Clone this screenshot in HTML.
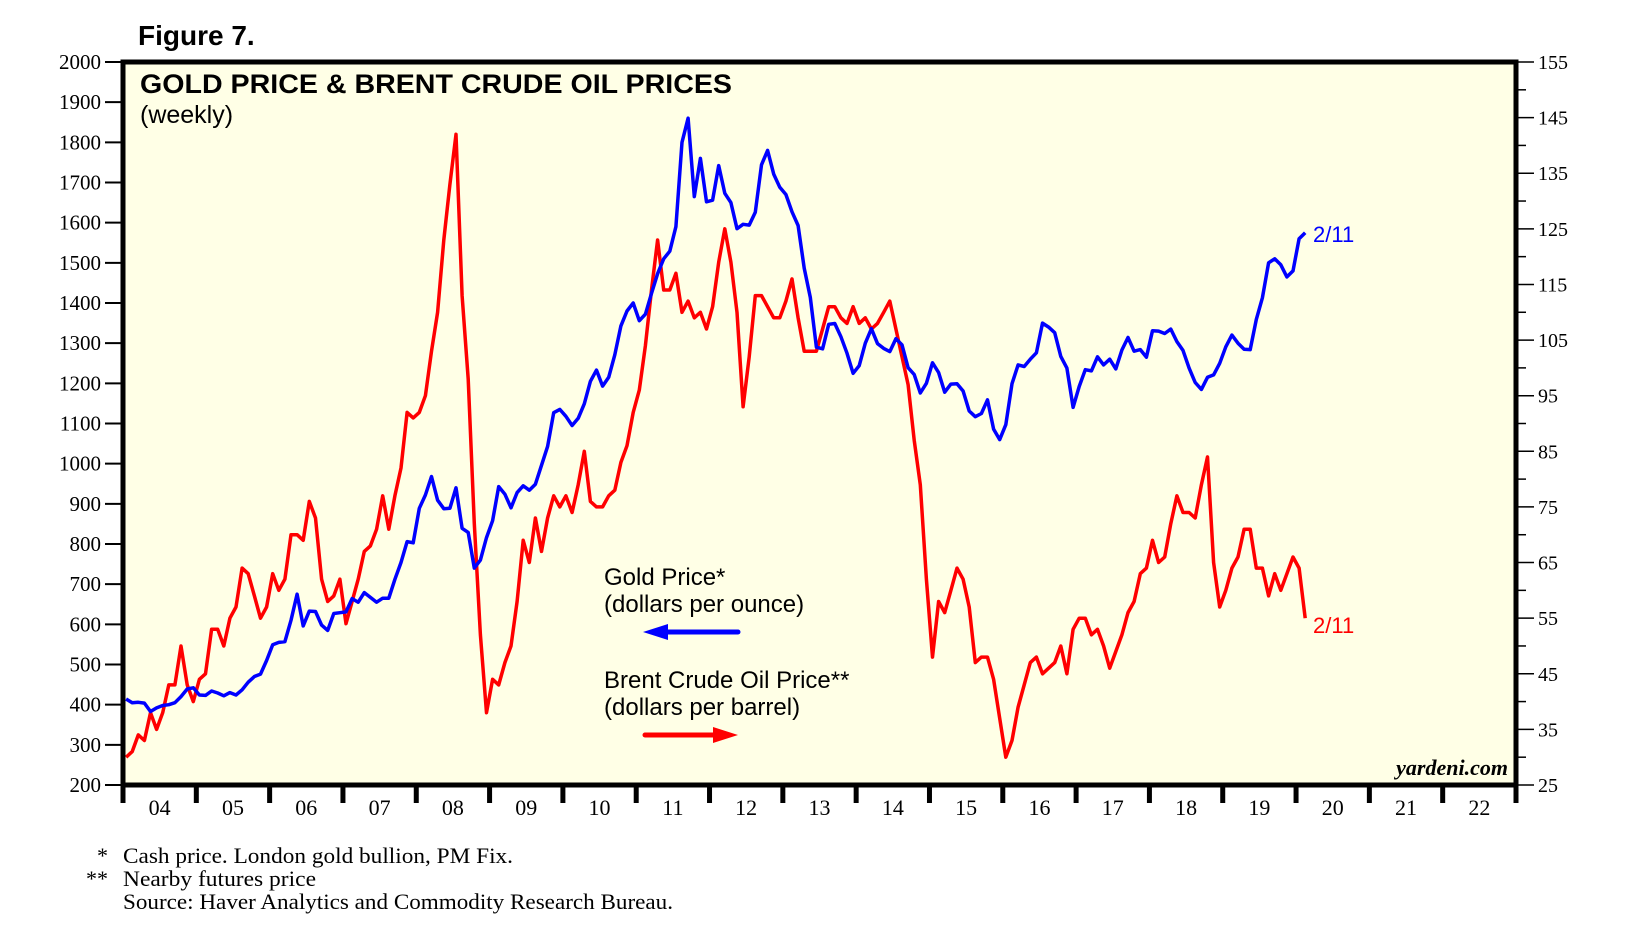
<!DOCTYPE html>
<html><head><meta charset="utf-8"><style>
html,body{margin:0;padding:0;background:#fff;}
svg{display:block;}
</style></head><body>
<svg id="chart" width="1650" height="943" viewBox="0 0 1650 943" xmlns="http://www.w3.org/2000/svg">
<text x="138" y="45" font-family="Liberation Sans, sans-serif" font-weight="bold" font-size="28">Figure 7.</text>
<rect x="123" y="62" width="1393" height="723" fill="#ffffe6"/>
<g id="grid"></g>
<g id="series"></g>
<rect x="123" y="62" width="1393" height="723" fill="none" stroke="#000" stroke-width="5"/>
<text x="140" y="93" font-family="Liberation Sans, sans-serif" font-weight="bold" font-size="27" textLength="592" lengthAdjust="spacingAndGlyphs">GOLD PRICE &amp; BRENT CRUDE OIL PRICES</text>
<text x="140" y="123" font-family="Liberation Sans, sans-serif" font-size="25">(weekly)</text>
<text x="604" y="585" font-family="Liberation Sans, sans-serif" font-size="24">Gold Price*</text>
<text x="604" y="612" font-family="Liberation Sans, sans-serif" font-size="24">(dollars per ounce)</text>
<line x1="660" y1="632" x2="738" y2="632" stroke="#0000ff" stroke-width="5" stroke-linecap="round"/>
<polygon points="643,632 668,624 668,640" fill="#0000ff"/>
<text x="604" y="688" font-family="Liberation Sans, sans-serif" font-size="24">Brent Crude Oil Price**</text>
<text x="604" y="715" font-family="Liberation Sans, sans-serif" font-size="24">(dollars per barrel)</text>
<line x1="645" y1="735" x2="720" y2="735" stroke="#ff0000" stroke-width="5" stroke-linecap="round"/>
<polygon points="738,735 713,727 713,743" fill="#ff0000"/>
<text x="1313" y="242" font-family="Liberation Sans, sans-serif" font-size="22" fill="#0000ff">2/11</text>
<text x="1313" y="633" font-family="Liberation Sans, sans-serif" font-size="22" fill="#ff0000">2/11</text>
<text x="1508" y="775" text-anchor="end" font-family="Liberation Serif, serif" font-style="italic" font-weight="bold" font-size="22">yardeni.com</text>
<text font-family="Liberation Serif, serif" font-size="22"><tspan x="97" y="863">*</tspan><tspan x="123" y="863" textLength="390" lengthAdjust="spacingAndGlyphs">Cash price. London gold bullion, PM Fix.</tspan></text>
<text font-family="Liberation Serif, serif" font-size="22"><tspan x="86" y="886">**</tspan><tspan x="123" y="886" textLength="193" lengthAdjust="spacingAndGlyphs">Nearby futures price</tspan></text>
<text x="123" y="909" font-family="Liberation Serif, serif" font-size="22" textLength="550" lengthAdjust="spacingAndGlyphs">Source: Haver Analytics and Commodity Research Bureau.</text>
</svg>
<script>
const years = [2004,2005,2006,2007,2008,2009,2010,2011,2012,2013,2014,2015,2016,2017,2018,2019,2020];
const yearLabels = ["04","05","06","07","08","09","10","11","12","13","14","15","16","17","18","19","20","21","22"];
const goldTicks = [200,300,400,500,600,700,800,900,1000,1100,1200,1300,1400,1500,1600,1700,1800,1900,2000];
const oilTicks = [25,35,45,55,65,75,85,95,105,115,125,135,145,155];
const gold = [
414,405,406,404,383,392,398,400,405,420,439,442,
424,423,434,429,422,430,424,437,456,470,476,510,
549,555,557,610,675,596,633,632,598,585,627,629,
631,664,655,679,667,655,665,665,712,754,806,803,
889,922,968,909,888,889,940,839,829,740,760,816,
858,943,924,890,928,945,934,949,996,1043,1127,1135,
1118,1095,1113,1149,1205,1233,1193,1215,1271,1343,1380,1400,
1356,1372,1424,1473,1510,1529,1590,1800,1860,1665,1760,1652,
1656,1742,1673,1650,1585,1596,1594,1626,1744,1780,1721,1688,
1670,1627,1593,1487,1414,1290,1286,1347,1349,1316,1275,1225,
1244,1300,1336,1299,1287,1279,1311,1296,1239,1222,1176,1200,
1251,1227,1178,1198,1199,1181,1131,1117,1125,1159,1086,1060,
1097,1199,1246,1242,1260,1276,1350,1340,1326,1267,1238,1140,
1192,1234,1231,1266,1246,1260,1236,1283,1314,1280,1284,1265,
1331,1330,1324,1335,1304,1282,1238,1202,1185,1215,1221,1250,
1291,1320,1300,1285,1284,1359,1413,1500,1510,1495,1465,1480,
1560,1575];
const brent = [
30,31,34,33,38,35,38,43,43,50,43,40,
44,45,53,53,50,55,57,64,63,59,55,57,
63,60,62,70,70,69,76,73,62,58,59,62,
54,58,62,67,68,71,77,71,77,82,92,91,
92,95,103,110,123,133,142,113,98,72,52,38,
44,43,47,50,58,69,65,73,67,73,77,75,
77,74,79,85,76,75,75,77,78,83,86,92,
96,104,114,123,114,114,117,110,112,109,110,107,
111,119,125,119,110,93,102,113,113,111,109,109,
112,116,109,103,103,103,107,111,111,109,108,111,
108,109,107,108,110,112,107,102,97,87,79,62,
48,58,56,60,64,62,57,47,48,48,44,37,
30,33,39,43,47,48,45,46,47,50,45,53,
55,55,52,53,50,46,49,52,56,58,63,64,
69,65,66,72,77,74,74,73,79,84,65,57,
60,64,66,71,71,64,64,59,63,60,63,66,
64,55];

const NS = "http://www.w3.org/2000/svg";
const L = 123, R = 1516, T = 62, B = 785;
const x0 = 2004, x1 = 2023;
function xs(t){ return L + (t - x0) / (x1 - x0) * (R - L); }
function yGold(v){ return B - (v - 200) / 1800 * (B - T); }
function yOil(v){ return B - (v - 25) / 130 * (B - T); }
function mk(tag, attrs, parent){
  const e = document.createElementNS(NS, tag);
  for (const k in attrs) e.setAttribute(k, attrs[k]);
  parent.appendChild(e);
  return e;
}
const grid = document.getElementById("grid");
const series = document.getElementById("series");

goldTicks.forEach(v => {
  const y = yGold(v);
  const t = mk("line", {x1: L - 18, x2: L, y1: y, y2: y, stroke: "#000", "stroke-width": 2}, grid);
  
  
  const lab = mk("text", {x: L - 22, y: y + 7, "text-anchor": "end", "font-family": "Liberation Serif, serif", "font-size": 21}, grid);
  lab.textContent = v;
  
  
});
for (let v = 25; v <= 155; v += 5) {
  const y = yOil(v);
  const major = oilTicks.indexOf(v) >= 0;
  const t = mk("line", {x1: R, x2: R + (major ? 18 : 10), y1: y, y2: y, stroke: "#000", "stroke-width": 1.5}, grid);
  
  
  if (major) {
    const lab = mk("text", {x: R + 22, y: y + 7, "font-family": "Liberation Serif, serif", "font-size": 20}, grid);
    lab.textContent = v;
    
    
  }
}
yearLabels.forEach((s, i) => {
  const x = xs(x0 + i);
  const t = mk("line", {x1: x, x2: x, y1: B, y2: B + 18, stroke: "#000", "stroke-width": 5}, grid);
  
  
  const lab = mk("text", {x: xs(x0 + i + 0.5), y: B + 30, "text-anchor": "middle", "font-family": "Liberation Serif, serif", "font-size": 22}, grid);
  lab.textContent = s;
  
  
});
const endT = xs(x1);
const et = mk("line", {x1: endT, x2: endT, y1: B, y2: B + 18, stroke: "#000", "stroke-width": 5}, grid);



function tAt(i){ return x0 + Math.floor(i / 12) + ((i % 12) + 0.5) / 12; }
function path(arr, yf){
  return arr.map((v, i) => (i ? "L" : "M") + xs(tAt(i)).toFixed(1) + " " + yf(v).toFixed(1)).join(" ");
}
const bp = mk("path", {d: path(brent, yOil), fill: "none", stroke: "#ff0000", "stroke-width": 3.5, "stroke-linejoin": "round"}, series);


const gp = mk("path", {d: path(gold, yGold), fill: "none", stroke: "#0000ff", "stroke-width": 3.5, "stroke-linejoin": "round"}, series);


</script>
</body></html>
